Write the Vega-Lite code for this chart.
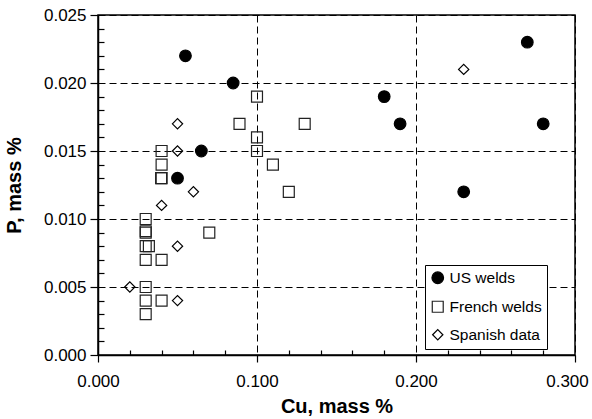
{
  "$schema": "https://vega.github.io/schema/vega-lite/v6.json",
  "width": 477,
  "height": 340,
  "autosize": "none",
  "padding": {"left": 98, "top": 15, "right": 17, "bottom": 64},
  "background": "white",
  "config": {
    "font": "Liberation Sans",
    "view": {"stroke": "black", "strokeWidth": 1.5},
    "axis": {
      "labelColor": "black",
      "titleColor": "black",
      "domainColor": "black",
      "domainWidth": 1.5,
      "tickColor": "black",
      "tickWidth": 1.2,
      "labelFontSize": 17,
      "titleFontSize": 20,
      "titleFontWeight": "bold",
      "gridColor": "black",
      "gridDash": [7, 4],
      "gridWidth": 1
    }
  },
  "data": {
    "values": [
      {"Cu": 0.055, "P": 0.022, "Source": "US welds"},
      {"Cu": 0.085, "P": 0.020, "Source": "US welds"},
      {"Cu": 0.065, "P": 0.015, "Source": "US welds"},
      {"Cu": 0.05, "P": 0.013, "Source": "US welds"},
      {"Cu": 0.27, "P": 0.023, "Source": "US welds"},
      {"Cu": 0.18, "P": 0.019, "Source": "US welds"},
      {"Cu": 0.19, "P": 0.017, "Source": "US welds"},
      {"Cu": 0.28, "P": 0.017, "Source": "US welds"},
      {"Cu": 0.23, "P": 0.012, "Source": "US welds"},
      {"Cu": 0.1, "P": 0.019, "Source": "French welds"},
      {"Cu": 0.089, "P": 0.017, "Source": "French welds"},
      {"Cu": 0.13, "P": 0.017, "Source": "French welds"},
      {"Cu": 0.1, "P": 0.016, "Source": "French welds"},
      {"Cu": 0.1, "P": 0.015, "Source": "French welds"},
      {"Cu": 0.11, "P": 0.014, "Source": "French welds"},
      {"Cu": 0.12, "P": 0.012, "Source": "French welds"},
      {"Cu": 0.04, "P": 0.015, "Source": "French welds"},
      {"Cu": 0.04, "P": 0.014, "Source": "French welds"},
      {"Cu": 0.04, "P": 0.013, "Source": "French welds"},
      {"Cu": 0.0397, "P": 0.013, "Source": "French welds"},
      {"Cu": 0.03, "P": 0.010, "Source": "French welds"},
      {"Cu": 0.03, "P": 0.009, "Source": "French welds"},
      {"Cu": 0.03, "P": 0.0091, "Source": "French welds"},
      {"Cu": 0.03, "P": 0.008, "Source": "French welds"},
      {"Cu": 0.032, "P": 0.008, "Source": "French welds"},
      {"Cu": 0.03, "P": 0.007, "Source": "French welds"},
      {"Cu": 0.04, "P": 0.007, "Source": "French welds"},
      {"Cu": 0.07, "P": 0.009, "Source": "French welds"},
      {"Cu": 0.03, "P": 0.005, "Source": "French welds"},
      {"Cu": 0.03, "P": 0.004, "Source": "French welds"},
      {"Cu": 0.04, "P": 0.004, "Source": "French welds"},
      {"Cu": 0.03, "P": 0.003, "Source": "French welds"},
      {"Cu": 0.23, "P": 0.021, "Source": "Spanish data"},
      {"Cu": 0.05, "P": 0.017, "Source": "Spanish data"},
      {"Cu": 0.05, "P": 0.015, "Source": "Spanish data"},
      {"Cu": 0.06, "P": 0.012, "Source": "Spanish data"},
      {"Cu": 0.04, "P": 0.011, "Source": "Spanish data"},
      {"Cu": 0.05, "P": 0.008, "Source": "Spanish data"},
      {"Cu": 0.02, "P": 0.005, "Source": "Spanish data"},
      {"Cu": 0.05, "P": 0.004, "Source": "Spanish data"}
    ]
  },
  "mark": {"type": "point", "strokeWidth": 1.2, "opacity": 1},
  "encoding": {
    "x": {
      "field": "Cu",
      "type": "quantitative",
      "title": "Cu, mass %",
      "scale": {"domain": [0, 0.3], "nice": false, "zero": true},
      "axis": {
        "values": [0, 0.02, 0.04, 0.06, 0.08, 0.1, 0.12, 0.14, 0.16, 0.18, 0.2, 0.22, 0.24, 0.26, 0.28, 0.3],
        "labelExpr": "abs(datum.value*10 - round(datum.value*10)) < 1e-6 ? format(datum.value, '.3f') : ''",
        "tickSize": {"condition": {"test": "abs(datum.value*10 - round(datum.value*10)) < 1e-6", "value": 7}, "value": -5},
        "grid": true,
        "gridOpacity": {"condition": {"test": "abs(datum.value*10 - round(datum.value*10)) < 1e-6", "value": 1}, "value": 0},
        "labelOffset": {"condition": {"test": "datum.value > 0.29", "value": -8}, "value": 0},
        "labelPadding": 11,
        "titlePadding": 7,
        "labelFlush": false,
        "labelOverlap": false
      }
    },
    "y": {
      "field": "P",
      "type": "quantitative",
      "title": "P, mass %",
      "scale": {"domain": [0, 0.025], "nice": false, "zero": true},
      "axis": {
        "values": [0, 0.001, 0.002, 0.003, 0.004, 0.005, 0.006, 0.007, 0.008, 0.009, 0.01, 0.011, 0.012, 0.013, 0.014, 0.015, 0.016, 0.017, 0.018, 0.019, 0.02, 0.021, 0.022, 0.023, 0.024, 0.025],
        "labelExpr": "abs(datum.value*200 - round(datum.value*200)) < 1e-6 ? format(datum.value, '.3f') : ''",
        "tickSize": {"condition": {"test": "abs(datum.value*200 - round(datum.value*200)) < 1e-6", "value": 8}, "value": -6},
        "grid": true,
        "gridOpacity": {"condition": {"test": "abs(datum.value*200 - round(datum.value*200)) < 1e-6", "value": 1}, "value": 0},
        "labelPadding": 4,
        "titlePadding": 19,
        "labelFlush": false,
        "labelOverlap": false
      }
    },
    "shape": {
      "field": "Source",
      "type": "nominal",
      "scale": {"domain": ["US welds", "French welds", "Spanish data"], "range": ["circle", "square", "diamond"]},
      "legend": {
        "title": null,
        "orient": "none",
        "legendX": 327,
        "legendY": 250,
        "strokeColor": "black",
        "fillColor": "white",
        "padding": 5,
        "labelFontSize": 15.5,
        "labelColor": "black",
        "labelOffset": 4,
        "rowPadding": 11,
        "symbolStrokeWidth": 1.2
      }
    },
    "size": {
      "field": "Source",
      "type": "nominal",
      "scale": {"domain": ["US welds", "French welds", "Spanish data"], "range": [135, 105, 120]}
    },
    "fill": {
      "field": "Source",
      "type": "nominal",
      "scale": {"domain": ["US welds", "French welds", "Spanish data"], "range": ["black", "transparent", "transparent"]},
      "legend": null
    },
    "stroke": {
      "field": "Source",
      "type": "nominal",
      "scale": {"domain": ["US welds", "French welds", "Spanish data"], "range": ["black", "#222222", "black"]},
      "legend": null
    }
  }
}
